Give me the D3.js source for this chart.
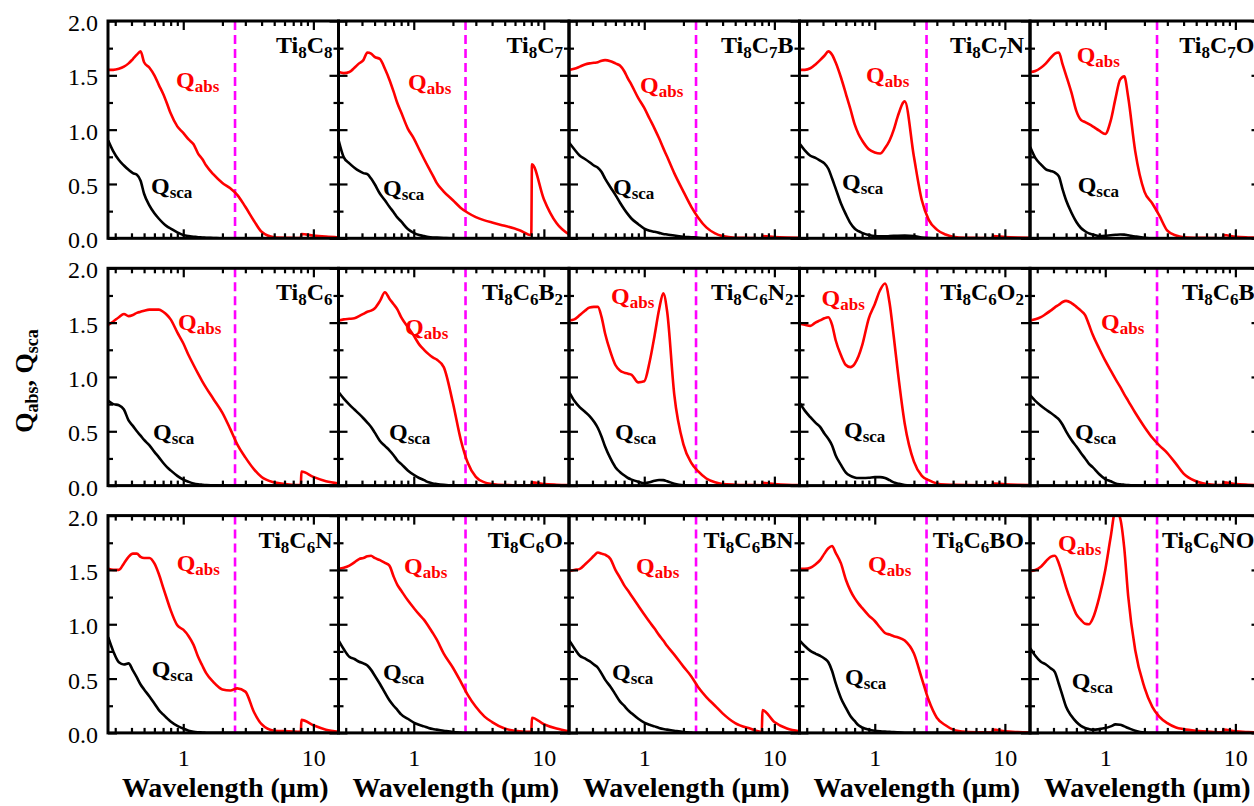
<!DOCTYPE html>
<html><head><meta charset="utf-8">
<script src="https://cdn.jsdelivr.net/npm/d3@7"></script>
<style>body{margin:0;background:#fff;} svg{display:block;}</style>
</head><body>
<svg id="chart" width="1254" height="806"></svg>
<script>
// ---------------- DATA ----------------
const wavelength = [0.265,0.29,0.32,0.35,0.38,0.41,0.44,0.47,0.5,0.55,0.6,0.65,0.7,0.75,0.8,0.9,1.0,1.1,1.2,1.3,1.4,1.5,1.7,2.0,2.3,2.6,3.0,3.5,4.0,5.0,6.5,8.0,8.1,10,12.5,15.6];
const xDomain = [0.264, 15.6];
const yDomain = [0, 2];
const yMajorTicks = [0, 0.5, 1.0, 1.5, 2.0];
const yMinorTicks = [0.25, 0.75, 1.25, 1.75];
const xMajorTicks = [1, 10];
const xMinorTicks = [0.3,0.4,0.5,0.6,0.7,0.8,0.9,2,3,4,5,6,7,8,9];
const cutoffWavelength = 2.5;
const panelNames = ["Ti8C8","Ti8C7","Ti8C7B","Ti8C7N","Ti8C7O","Ti8C6","Ti8C6B2","Ti8C6N2","Ti8C6O2","Ti8C6B","Ti8C6N","Ti8C6O","Ti8C6BN","Ti8C6BO","Ti8C6NO"];

const qabs_Ti8C8 = [1.55,1.55,1.56,1.58,1.61,1.65,1.69,1.72,1.62,1.57,1.50,1.41,1.33,1.24,1.15,1.03,0.97,0.91,0.865,0.78,0.73,0.67,0.59,0.51,0.46,0.40,0.29,0.16,0.06,0.01,0.005,0.003,0.04,0.025,0.015,0.008];
const qsca_Ti8C8 = [0.90,0.80,0.72,0.67,0.63,0.60,0.585,0.53,0.41,0.30,0.23,0.18,0.14,0.11,0.09,0.055,0.03,0.02,0.015,0.01,0.008,0.005,0.003,0,0,0,0,0,0,0,0,0,0,0,0,0];
const qabs_Ti8C7 = [1.53,1.52,1.53,1.57,1.61,1.64,1.71,1.70,1.67,1.65,1.56,1.46,1.35,1.24,1.16,1.01,0.92,0.82,0.73,0.65,0.58,0.51,0.43,0.35,0.28,0.235,0.195,0.165,0.145,0.115,0.074,0.03,0.68,0.36,0.14,0.035];
const qsca_Ti8C7 = [0.90,0.745,0.69,0.65,0.62,0.60,0.59,0.55,0.50,0.41,0.35,0.29,0.24,0.19,0.155,0.085,0.05,0.03,0.02,0.012,0.008,0.006,0.003,0,0,0,0,0,0,0,0,0,0,0,0,0];
const qabs_Ti8C7B = [1.55,1.56,1.58,1.60,1.61,1.615,1.62,1.635,1.64,1.63,1.61,1.59,1.54,1.47,1.41,1.29,1.20,1.10,1.01,0.92,0.83,0.75,0.60,0.43,0.29,0.19,0.10,0.045,0.02,0.005,0.003,0,0.02,0.012,0.007,0.004];
const qsca_Ti8C7B = [0.88,0.82,0.76,0.73,0.70,0.67,0.65,0.61,0.55,0.47,0.40,0.33,0.27,0.22,0.18,0.13,0.09,0.07,0.06,0.05,0.04,0.035,0.025,0.015,0.01,0.005,0,0,0,0,0,0,0,0,0,0];
const qabs_Ti8C7N = [1.55,1.55,1.565,1.60,1.64,1.68,1.72,1.69,1.62,1.48,1.33,1.19,1.05,0.96,0.90,0.82,0.79,0.78,0.83,0.90,1.00,1.12,1.26,0.75,0.35,0.17,0.08,0.035,0.015,0.005,0.003,0,0.02,0.012,0.007,0.004];
const qsca_Ti8C7N = [0.87,0.81,0.76,0.74,0.715,0.69,0.64,0.55,0.46,0.32,0.22,0.14,0.09,0.065,0.05,0.03,0.02,0.018,0.018,0.02,0.022,0.024,0.025,0.02,0.008,0.003,0,0,0,0,0,0,0,0,0,0];
const qabs_Ti8C7O = [1.53,1.54,1.57,1.61,1.66,1.70,1.71,1.60,1.50,1.34,1.17,1.09,1.07,1.05,1.03,0.99,0.96,1.08,1.29,1.46,1.49,1.30,0.80,0.43,0.32,0.21,0.07,0.025,0.01,0.005,0.003,0,0.03,0.015,0.008,0.004];
const qsca_Ti8C7O = [0.84,0.74,0.68,0.635,0.62,0.605,0.57,0.45,0.35,0.235,0.15,0.095,0.065,0.045,0.035,0.02,0.022,0.028,0.032,0.035,0.034,0.028,0.017,0.005,0,0,0,0,0,0,0,0,0,0,0,0];
const qabs_Ti8C6 = [1.48,1.51,1.55,1.58,1.56,1.57,1.59,1.60,1.61,1.62,1.62,1.62,1.60,1.57,1.53,1.41,1.31,1.20,1.11,1.03,0.96,0.90,0.80,0.67,0.52,0.38,0.26,0.15,0.08,0.03,0.01,0.005,0.13,0.08,0.04,0.02];
const qsca_Ti8C6 = [0.78,0.75,0.74,0.70,0.60,0.55,0.50,0.46,0.42,0.37,0.31,0.26,0.21,0.17,0.14,0.09,0.055,0.035,0.02,0.012,0.008,0.005,0.003,0,0,0,0,0,0,0,0,0,0,0,0,0];
const qabs_Ti8C6B2 = [1.52,1.53,1.535,1.54,1.56,1.58,1.60,1.61,1.63,1.70,1.78,1.72,1.67,1.62,1.55,1.46,1.38,1.30,1.25,1.21,1.18,1.16,1.09,0.76,0.42,0.21,0.08,0.03,0.015,0.005,0.003,0,0.03,0.015,0.008,0.004];
const qsca_Ti8C6B2 = [0.86,0.80,0.745,0.70,0.66,0.62,0.58,0.54,0.49,0.41,0.365,0.325,0.28,0.23,0.20,0.14,0.10,0.07,0.05,0.03,0.02,0.015,0.008,0.002,0,0,0,0,0,0,0,0,0,0,0,0];
const qabs_Ti8C6N2 = [1.52,1.53,1.57,1.61,1.64,1.645,1.645,1.55,1.40,1.23,1.11,1.06,1.04,1.03,1.02,0.95,0.96,1.14,1.38,1.62,1.77,1.60,0.84,0.38,0.21,0.13,0.065,0.03,0.015,0.008,0.005,0.003,0.025,0.015,0.008,0.005];
const qsca_Ti8C6N2 = [0.86,0.78,0.72,0.68,0.64,0.59,0.53,0.45,0.36,0.25,0.17,0.125,0.095,0.07,0.055,0.035,0.022,0.03,0.045,0.052,0.05,0.04,0.018,0.003,0,0,0,0,0,0,0,0,0,0,0,0];
const qabs_Ti8C6O2 = [1.49,1.48,1.47,1.50,1.52,1.54,1.55,1.48,1.34,1.20,1.11,1.09,1.12,1.19,1.29,1.54,1.67,1.80,1.86,1.68,1.37,1.06,0.57,0.22,0.09,0.05,0.02,0.01,0.008,0.005,0.003,0.002,0.02,0.012,0.007,0.004];
const qsca_Ti8C6O2 = [0.76,0.69,0.63,0.58,0.54,0.48,0.43,0.37,0.28,0.19,0.12,0.09,0.075,0.07,0.07,0.072,0.078,0.078,0.07,0.05,0.03,0.02,0.005,0,0,0,0,0,0,0,0,0,0,0,0,0];
const qabs_Ti8C6B = [1.52,1.53,1.55,1.58,1.61,1.64,1.665,1.69,1.70,1.68,1.645,1.61,1.57,1.48,1.39,1.26,1.15,1.06,0.98,0.91,0.84,0.78,0.67,0.54,0.44,0.37,0.30,0.20,0.11,0.04,0.01,0.005,0.03,0.015,0.008,0.004];
const qsca_Ti8C6B = [0.83,0.78,0.735,0.70,0.67,0.64,0.61,0.56,0.50,0.42,0.36,0.30,0.25,0.20,0.17,0.105,0.06,0.04,0.02,0.012,0.008,0.005,0.002,0,0,0,0,0,0,0,0,0,0,0,0,0];
const qabs_Ti8C6N = [1.51,1.50,1.50,1.56,1.62,1.65,1.65,1.62,1.61,1.61,1.56,1.46,1.34,1.23,1.13,0.99,0.95,0.89,0.81,0.70,0.62,0.55,0.47,0.40,0.39,0.41,0.38,0.19,0.08,0.02,0.015,0.01,0.12,0.07,0.03,0.01];
const qsca_Ti8C6N = [0.88,0.75,0.65,0.63,0.64,0.575,0.51,0.445,0.40,0.335,0.27,0.21,0.17,0.135,0.105,0.065,0.04,0.02,0.01,0.006,0.004,0.002,0,0,0,0,0,0,0,0,0,0,0,0,0,0];
const qabs_Ti8C6O = [1.51,1.52,1.54,1.57,1.60,1.61,1.625,1.63,1.61,1.59,1.565,1.54,1.44,1.36,1.31,1.22,1.15,1.09,1.04,0.98,0.92,0.86,0.73,0.60,0.47,0.35,0.24,0.15,0.10,0.04,0.015,0.01,0.14,0.08,0.04,0.015];
const qsca_Ti8C6O = [0.85,0.77,0.70,0.68,0.655,0.64,0.62,0.58,0.53,0.45,0.37,0.30,0.25,0.21,0.17,0.13,0.095,0.075,0.06,0.045,0.035,0.03,0.02,0.008,0.003,0,0,0,0,0,0,0,0,0,0,0];
const qabs_Ti8C6BN = [1.49,1.50,1.51,1.55,1.59,1.63,1.66,1.65,1.64,1.60,1.50,1.43,1.36,1.31,1.26,1.17,1.09,1.02,0.96,0.90,0.85,0.80,0.72,0.61,0.52,0.42,0.33,0.25,0.18,0.09,0.04,0.01,0.21,0.10,0.04,0.015];
const qsca_Ti8C6BN = [0.85,0.78,0.71,0.685,0.66,0.63,0.60,0.545,0.49,0.425,0.355,0.29,0.25,0.21,0.18,0.13,0.095,0.075,0.06,0.045,0.035,0.03,0.02,0.008,0.003,0,0,0,0,0,0,0,0,0,0,0];
const qabs_Ti8C6BO = [1.51,1.51,1.52,1.55,1.59,1.65,1.70,1.72,1.66,1.56,1.41,1.31,1.24,1.19,1.15,1.08,1.03,0.97,0.92,0.905,0.89,0.88,0.85,0.73,0.50,0.30,0.14,0.07,0.03,0.01,0.005,0.003,0.03,0.015,0.008,0.004];
const qsca_Ti8C6BO = [0.85,0.80,0.755,0.73,0.71,0.685,0.65,0.57,0.46,0.32,0.23,0.155,0.11,0.07,0.05,0.03,0.02,0.015,0.012,0.01,0.007,0.005,0.002,0,0,0,0,0,0,0,0,0,0,0,0,0];
const qabs_Ti8C6NO = [1.49,1.50,1.53,1.58,1.62,1.63,1.56,1.45,1.34,1.20,1.09,1.04,1.005,1.00,1.05,1.25,1.50,1.80,2.05,1.98,1.70,1.26,0.76,0.42,0.24,0.15,0.09,0.05,0.035,0.02,0.01,0.005,0.03,0.015,0.008,0.004];
const qsca_Ti8C6NO = [0.78,0.71,0.655,0.63,0.595,0.56,0.45,0.34,0.24,0.155,0.10,0.065,0.045,0.035,0.03,0.035,0.045,0.06,0.078,0.075,0.06,0.045,0.02,0.003,0,0,0,0,0,0,0,0,0,0,0,0];

const absSeries = [qabs_Ti8C8,qabs_Ti8C7,qabs_Ti8C7B,qabs_Ti8C7N,qabs_Ti8C7O,qabs_Ti8C6,qabs_Ti8C6B2,qabs_Ti8C6N2,qabs_Ti8C6O2,qabs_Ti8C6B,qabs_Ti8C6N,qabs_Ti8C6O,qabs_Ti8C6BN,qabs_Ti8C6BO,qabs_Ti8C6NO];
const scaSeries = [qsca_Ti8C8,qsca_Ti8C7,qsca_Ti8C7B,qsca_Ti8C7N,qsca_Ti8C7O,qsca_Ti8C6,qsca_Ti8C6B2,qsca_Ti8C6N2,qsca_Ti8C6O2,qsca_Ti8C6B,qsca_Ti8C6N,qsca_Ti8C6O,qsca_Ti8C6BN,qsca_Ti8C6BO,qsca_Ti8C6NO];

// ---------------- LAYOUT ----------------
// label offsets inside each panel (px): [absX, absY, scaX, scaY]
const labelPos = [
  [68,67,43,173],[69.5,69,44.5,175],[71,72,44,174],[66.5,62,42.5,169],[46.7,42,47.7,172],
  [70,62,45,172],[66.5,67,50.5,172],[42,36,46,172],[22,38,44.5,170],[71,62,45,172],
  [68.7,55,43.7,161],[65.5,58,44.5,164],[67,58,43,164],[68.5,56,45.5,169],[28,35,41.7,173]
];
const W = 230.5, H = 217.3, LEFT = 108, TOP = 21, ROW_STEP = 247.3, NCOL = 5;
const FONT = "'Liberation Serif','Times New Roman',Times,serif";

const svg = d3.select("#chart");
svg.append("rect").attr("width",1254).attr("height",806).attr("fill","#fff");
const x = d3.scaleLog().domain(xDomain).range([0, W]);
const y = d3.scaleLinear().domain(yDomain).range([H, 0]);

function styleAxis(sel){
  sel.select(".domain").remove();
  sel.selectAll(".tick line").attr("stroke","#000").attr("stroke-width",2.2);
  sel.attr("font-family", FONT).attr("font-size", 24);
  sel.selectAll(".tick text").attr("fill","#000");
}

panelNames.forEach((name, i) => {
  const c = i % NCOL, r = Math.floor(i / NCOL);
  const g = svg.append("g").attr("transform", `translate(${LEFT + c*W},${TOP + r*ROW_STEP})`);
  const clipId = "clip" + i;
  g.append("clipPath").attr("id", clipId).append("rect").attr("width", W).attr("height", H);
  const plot = g.append("g").attr("clip-path", `url(#${clipId})`);

  plot.append("line")
    .attr("x1", x(cutoffWavelength)).attr("x2", x(cutoffWavelength))
    .attr("y1", 0).attr("y2", H)
    .attr("stroke", "#ff00ff").attr("stroke-width", 2.6).attr("stroke-dasharray", "9,5");

  const line = d3.line().x((d, k) => x(wavelength[k])).y(d => y(d)).curve(d3.curveMonotoneX);
  plot.append("path").datum(scaSeries[i]).attr("d", line)
    .attr("fill","none").attr("stroke","#000").attr("stroke-width",2.6);
  plot.append("path").datum(absSeries[i]).attr("d", line)
    .attr("fill","none").attr("stroke","#ff0000").attr("stroke-width",2.6);

  // axes (inward ticks)
  const bottomLabels = (r === 2);
  g.append("g").attr("transform", `translate(0,${H})`)
    .call(d3.axisBottom(x).tickValues(xMajorTicks).tickSize(-9).tickPadding(16)
      .tickFormat(bottomLabels ? d3.format("d") : () => ""))
    .call(styleAxis);
  g.append("g").attr("transform", `translate(0,${H})`)
    .call(d3.axisBottom(x).tickValues(xMinorTicks).tickSize(-5).tickFormat(() => ""))
    .call(styleAxis);
  g.append("g")
    .call(d3.axisTop(x).tickValues(xMajorTicks).tickSize(-9).tickFormat(() => ""))
    .call(styleAxis);
  g.append("g")
    .call(d3.axisTop(x).tickValues(xMinorTicks).tickSize(-5).tickFormat(() => ""))
    .call(styleAxis);
  const la = g.append("g")
    .call(d3.axisLeft(y).tickValues(yMajorTicks).tickSize(-9).tickPadding(10)
      .tickFormat(c === 0 ? d3.format(".1f") : () => ""))
    .call(styleAxis);
  la.selectAll(".tick text").attr("dy", "0.4em");
  g.append("g")
    .call(d3.axisLeft(y).tickValues(yMinorTicks).tickSize(-5).tickFormat(() => ""))
    .call(styleAxis);
  g.append("g").attr("transform", `translate(${W},0)`)
    .call(d3.axisRight(y).tickValues(yMajorTicks).tickSize(-9).tickFormat(() => ""))
    .call(styleAxis);
  g.append("g").attr("transform", `translate(${W},0)`)
    .call(d3.axisRight(y).tickValues(yMinorTicks).tickSize(-5).tickFormat(() => ""))
    .call(styleAxis);

  g.append("rect").attr("width", W).attr("height", H)
    .attr("fill","none").attr("stroke","#000").attr("stroke-width",3);

  // panel title with subscripts
  const t = g.append("text").attr("x", W - 6).attr("y", 32).attr("text-anchor","end")
    .attr("font-family", FONT).attr("font-weight","bold").attr("font-size",24).attr("fill","#000");
  let shifted = false;
  name.split(/(\d+)/).filter(s => s.length).forEach(part => {
    if (/^\d+$/.test(part)) {
      t.append("tspan").attr("font-size",17).attr("dy", shifted ? 0 : 5).text(part);
      shifted = true;
    } else {
      t.append("tspan").attr("dy", shifted ? -5 : 0).text(part);
      shifted = false;
    }
  });

  // Qabs / Qsca labels
  const lp = labelPos[i];
  const qa = g.append("text").attr("x", lp[0]).attr("y", lp[1])
    .attr("font-family", FONT).attr("font-weight","bold").attr("font-size",24).attr("fill","#ff0000");
  qa.append("tspan").text("Q");
  qa.append("tspan").attr("font-size",17).attr("dy",4).text("abs");
  const qs = g.append("text").attr("x", lp[2]).attr("y", lp[3])
    .attr("font-family", FONT).attr("font-weight","bold").attr("font-size",24).attr("fill","#000");
  qs.append("tspan").text("Q");
  qs.append("tspan").attr("font-size",17).attr("dy",4).text("sca");

  if (r === 2) {
    svg.append("text").attr("x", LEFT + c*W + W/2 + 2).attr("y", 797)
      .attr("text-anchor","middle").attr("font-family", FONT).attr("font-weight","bold")
      .attr("font-size",28).attr("fill","#000").text("Wavelength (\u00b5m)");
  }
});

// y axis title
const yt = svg.append("text").attr("transform","translate(33,381) rotate(-90)")
  .attr("text-anchor","middle").attr("font-family", FONT).attr("font-weight","bold")
  .attr("font-size",26).attr("fill","#000");
yt.append("tspan").text("Q");
yt.append("tspan").attr("font-size",18).attr("dy",5).text("abs");
yt.append("tspan").attr("dy",-5).text(", Q");
yt.append("tspan").attr("font-size",18).attr("dy",5).text("sca");
</script>
</body></html>
